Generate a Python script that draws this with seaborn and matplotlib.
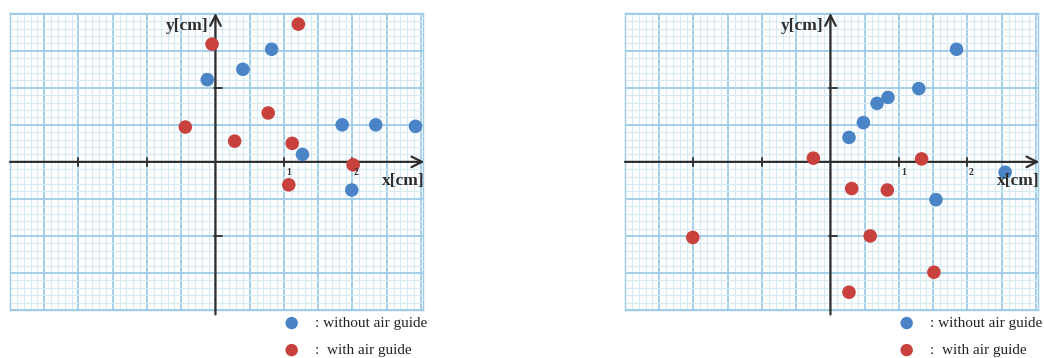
import numpy as np
import pandas as pd
import matplotlib
matplotlib.use("Agg")
import matplotlib.pyplot as plt
import seaborn as sns

# ---- data ----
left_blue_x = [-0.12, 0.40, 0.82, 1.85, 2.34, 2.92, 1.27, 1.99]
left_blue_y = [1.11, 1.25, 1.52, 0.50, 0.50, 0.48, 0.10, -0.38]
left_red_x = [1.21, -0.05, -0.44, 0.77, 0.28, 1.12, 2.01, 1.07]
left_red_y = [1.86, 1.59, 0.47, 0.66, 0.28, 0.25, -0.04, -0.31]

right_blue_x = [1.84, 1.29, 0.84, 0.68, 0.48, 0.27, 2.55, 1.54]
right_blue_y = [1.52, 0.99, 0.87, 0.79, 0.53, 0.33, -0.14, -0.51]
right_red_x = [-0.25, 1.33, 0.31, 0.83, -2.01, 0.58, 1.51, 0.27]
right_red_y = [0.05, 0.04, -0.36, -0.38, -1.02, -1.00, -1.49, -1.76]

groups = ["without air guide", "with air guide"]
legend_labels = [": without air guide", ":  with air guide"]
x_tick_labels = ["1", "2"]

BLUE = "#4a84c6"
RED = "#c9413c"
palette = {groups[0]: BLUE, groups[1]: RED}

sns.set_style("white")
plt.rcParams['font.family'] = ['Liberation Serif', 'DejaVu Serif']

fig = plt.figure(figsize=(10.44, 3.58), dpi=100)

W, H = 1044.0, 358.0
panels = [
    (10, (left_blue_x, left_blue_y, left_red_x, left_red_y)),
    (625, (right_blue_x, right_blue_y, right_red_x, right_red_y)),
]

MINOR_C = "#d6eaf6"
MAJOR_C = "#9dcbe8"
AX_C = "#2e2e2e"

for left_px, (bx, by, rx, ry) in panels:
    ax = fig.add_axes([left_px / W, (H - 310) / H, 413 / W, 297 / H])
    ax.set_xlim(-3.0, 3.03)
    ax.set_ylim(-2.0, 2.01)

    # graph-paper grid
    ax.set_xticks(np.arange(-3.0, 3.01, 0.5))
    ax.set_yticks(np.arange(-2.0, 2.01, 0.5))
    ax.set_xticks(np.arange(-3.0, 3.05, 0.1), minor=True)
    ax.set_yticks(np.arange(-2.0, 2.05, 0.1), minor=True)
    ax.grid(True, which="minor", color=MINOR_C, lw=0.8)
    ax.grid(True, which="major", color=MAJOR_C, lw=1.3)
    ax.tick_params(which="both", length=0, labelbottom=False, labelleft=False)
    ax.set_axisbelow(True)
    for s in ax.spines.values():
        s.set_color(MAJOR_C)
        s.set_linewidth(1.0)

    # coordinate axes with arrows
    ax.annotate("", xy=(3.05, 0), xytext=(-3.0, 0),
                arrowprops=dict(arrowstyle="->,head_length=0.75,head_width=0.38",
                                lw=1.6, color=AX_C, shrinkA=0, shrinkB=0),
                annotation_clip=False, zorder=3)
    ax.annotate("", xy=(0, 2.01), xytext=(0, -2.06),
                arrowprops=dict(arrowstyle="->,head_length=0.75,head_width=0.38",
                                lw=1.6, color=AX_C, shrinkA=0, shrinkB=0),
                annotation_clip=False, zorder=3)
    for t in [-2, -1, 1, 2]:
        ax.plot([t, t], [-0.055, 0.055], color=AX_C, lw=1.3, zorder=3)
    for t in [-1, 1]:
        ax.plot([-0.02, 0.09], [t, t], color=AX_C, lw=1.3, zorder=3)

    ax.text(1.07, -0.14, x_tick_labels[0], fontsize=7, fontweight="bold",
            ha="center", va="center", color=AX_C, zorder=5)
    ax.text(2.05, -0.15, x_tick_labels[1], fontsize=7, fontweight="bold",
            ha="center", va="center", color=AX_C, zorder=5)
    ax.text(3.05, -0.26, "x[cm]", fontsize=12.5, fontweight="bold",
            ha="right", va="center", color=AX_C, zorder=5)
    ax.text(-0.1, 1.83, "y[cm]", fontsize=12.5, fontweight="bold",
            ha="right", va="center", color=AX_C, zorder=5)

    df = pd.DataFrame({
        "x": list(bx) + list(rx),
        "y": list(by) + list(ry),
        "group": [groups[0]] * len(bx) + [groups[1]] * len(rx),
    })
    sns.scatterplot(data=df, x="x", y="y", hue="group", palette=palette,
                    s=95, edgecolor="none", legend=False, ax=ax, zorder=4,
                    clip_on=False)
    ax.set_xlabel("")
    ax.set_ylabel("")

    # manual legend below the panel
    for i, (g, lab) in enumerate(zip(groups, legend_labels)):
        yy = -0.044 - i * 0.091
        ax.scatter([0.682], [yy], s=80, color=palette[g], transform=ax.transAxes,
                   clip_on=False, edgecolor="none")
        ax.text(0.738, yy, lab, transform=ax.transAxes, fontsize=11,
                ha="left", va="center", color="#222222")

fig.savefig("out.png", dpi=100)
